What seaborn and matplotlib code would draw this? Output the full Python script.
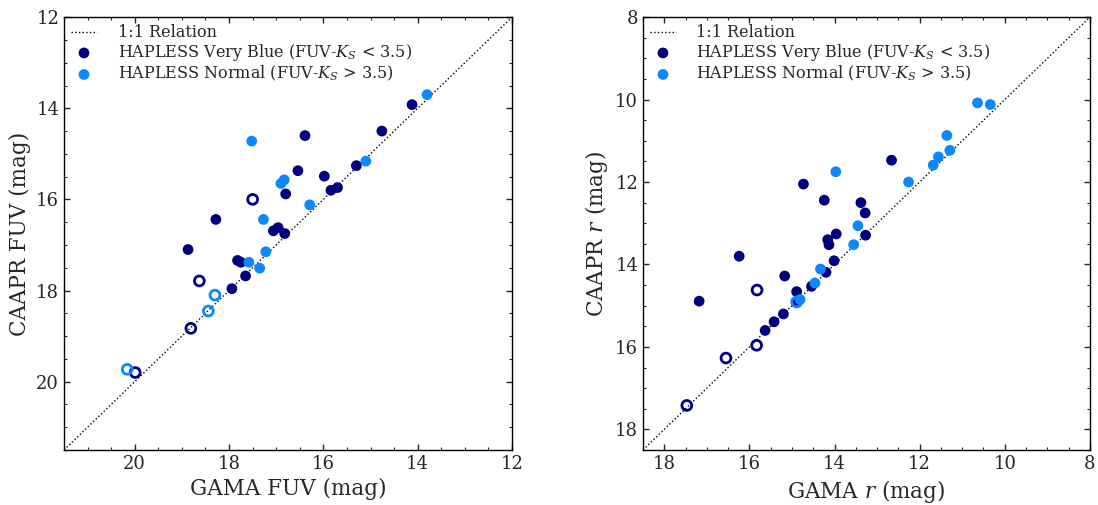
import matplotlib
matplotlib.use("Agg")
import matplotlib.pyplot as plt
from matplotlib.ticker import MultipleLocator
import seaborn as sns
import pandas as pd

# ---- FUV panel data (GAMA, CAAPR) ----
fuv_blue_gama = [14.12, 14.76, 16.39, 15.30, 16.54, 15.98, 15.84, 15.70, 16.80, 18.28,
                 17.06, 16.96, 16.82, 18.87, 17.82, 17.75, 17.65, 17.94]
fuv_blue_caapr = [13.92, 14.50, 14.60, 15.26, 15.37, 15.49, 15.80, 15.74, 15.88, 16.44,
                  16.69, 16.62, 16.75, 17.10, 17.34, 17.38, 17.68, 17.96]
fuv_blue_open_gama = [17.50, 18.63, 18.81, 19.99]
fuv_blue_open_caapr = [16.00, 17.79, 18.83, 19.80]
fuv_norm_gama = [13.80, 15.10, 17.52, 16.90, 16.83, 16.29, 17.27, 17.22, 17.58, 17.35]
fuv_norm_caapr = [13.70, 15.16, 14.72, 15.65, 15.57, 16.12, 16.44, 17.15, 17.38, 17.51]
fuv_norm_open_gama = [18.30, 18.44, 20.16]
fuv_norm_open_caapr = [18.10, 18.45, 19.73]

# ---- r-band panel data (GAMA, CAAPR) ----
r_blue_gama = [12.66, 14.73, 14.24, 13.38, 13.28, 13.96, 13.27, 14.16, 14.13, 16.24,
               14.01, 14.20, 15.17, 14.89, 14.54, 17.18, 15.20, 15.42, 15.63, 14.89]
r_blue_caapr = [11.47, 12.05, 12.44, 12.50, 12.75, 13.26, 13.29, 13.40, 13.52, 13.80,
                13.91, 14.19, 14.28, 14.66, 14.53, 14.89, 15.20, 15.39, 15.60, 14.91]
r_blue_open_gama = [15.82, 15.83, 16.55, 17.47]
r_blue_open_caapr = [14.62, 15.96, 16.27, 17.42]
r_norm_gama = [10.64, 10.34, 11.36, 11.29, 11.56, 11.68, 12.26, 13.97, 13.45, 13.55,
               14.33, 14.46, 14.81]
r_norm_caapr = [10.08, 10.12, 10.87, 11.23, 11.39, 11.59, 12.00, 11.75, 13.06, 13.52,
                14.11, 14.45, 14.85]
r_norm_open_gama = [14.89]
r_norm_open_caapr = [14.91]

dark = "#00007F"
light = "#0A88FF"

sns.set_style("ticks")
plt.rcParams["font.family"] = ["DejaVu Serif"]
plt.rcParams["mathtext.fontset"] = "dejavuserif"


def panel(ax, lims, major, data, xlabel, ylabel):
    (bg, bc, bog, boc, ng, nc, nog, noc) = data
    ax.plot(lims, lims, ls=":", color="black", lw=1.0, label="1:1 Relation", zorder=1)
    blue = pd.DataFrame({"gama": bg, "caapr": bc})
    norm = pd.DataFrame({"gama": ng, "caapr": nc})
    sns.scatterplot(data=blue, x="gama", y="caapr", color=dark, s=60, edgecolor="none",
                    ax=ax, label=r"HAPLESS Very Blue (FUV-$K_S$ < 3.5)", zorder=3)
    sns.scatterplot(data=norm, x="gama", y="caapr", color=light, s=60, edgecolor="none",
                    ax=ax, label=r"HAPLESS Normal (FUV-$K_S$ > 3.5)", zorder=3)
    sns.scatterplot(x=bog, y=boc, facecolor="none", edgecolor=dark, linewidth=2, s=50,
                    ax=ax, zorder=4)
    sns.scatterplot(x=nog, y=noc, facecolor="none", edgecolor=light, linewidth=2, s=50,
                    ax=ax, zorder=4)
    ax.set_xlim(lims)
    ax.set_ylim(lims)
    ax.xaxis.set_major_locator(MultipleLocator(major))
    ax.yaxis.set_major_locator(MultipleLocator(major))
    ax.xaxis.set_minor_locator(MultipleLocator(0.5))
    ax.yaxis.set_minor_locator(MultipleLocator(0.5))
    ax.tick_params(which="both", direction="in", top=True, right=True, labelsize=13)
    ax.tick_params(which="major", length=4, width=1)
    ax.tick_params(which="minor", length=2, width=0.8)
    ax.set_xlabel(xlabel, fontsize=15.5)
    ax.set_ylabel(ylabel, fontsize=15.5)
    for sp in ax.spines.values():
        sp.set_linewidth(1.0)
        sp.set_color("black")
    ax.legend(loc="upper left", frameon=False, fontsize=11.5, handlelength=1.6,
              handletextpad=1.3, borderaxespad=0.15, borderpad=0.3, labelspacing=0.05)


fig = plt.figure(figsize=(10.98, 5.05), dpi=100)
ax1 = fig.add_axes([0.0583, 0.109, 0.408, 0.857])
ax2 = fig.add_axes([0.5856, 0.109, 0.407, 0.857])

panel(ax1, (21.5, 12), 2,
      (fuv_blue_gama, fuv_blue_caapr, fuv_blue_open_gama, fuv_blue_open_caapr,
       fuv_norm_gama, fuv_norm_caapr, fuv_norm_open_gama, fuv_norm_open_caapr),
      "GAMA FUV (mag)", "CAAPR FUV (mag)")
panel(ax2, (18.5, 8), 2,
      (r_blue_gama, r_blue_caapr, r_blue_open_gama, r_blue_open_caapr,
       r_norm_gama, r_norm_caapr, r_norm_open_gama, r_norm_open_caapr),
      r"GAMA $r$ (mag)", r"CAAPR $r$ (mag)")

fig.savefig("out.png", dpi=100)
